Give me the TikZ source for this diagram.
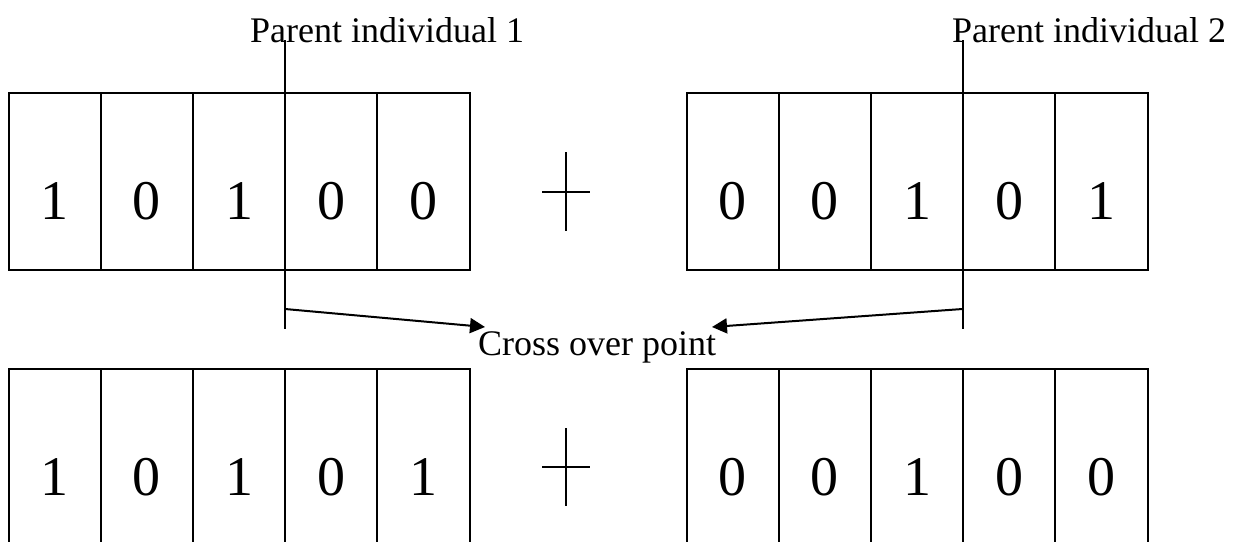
\documentclass[tikz,border=0pt]{standalone}
\usepackage{fontspec}
\setmainfont{Liberation Serif}
\usetikzlibrary{arrows.meta}
\begin{document}
\begin{tikzpicture}[x=1pt,y=-1pt,
  cell/.style={draw,line width=2pt,minimum width=92.2pt,minimum height=177pt,inner sep=0pt,outer sep=0pt,anchor=north west},
  digit/.style={font=\fontsize{56}{60}\selectfont,inner sep=0pt},
  lbl/.style={font=\fontsize{36}{40}\selectfont,inner sep=0pt,anchor=base west},
  ln/.style={line width=2pt},
  arr/.style={line width=2pt,-{Triangle[length=15pt,width=15pt]}}]
\path[use as bounding box] (0,0) rectangle (1234,541);
\clip (0,0) rectangle (1234,541);
% top row
\foreach \d [count=\i] in {1,0,1,0,0} {
  \node[cell] (ta\i) at ({8.5+(\i-1)*92.2},93) {};
  \node[digit] (tad\i) at ([yshift=-19.5pt]ta\i.center) {\d};
}
\foreach \d [count=\i] in {0,0,1,0,1} {
  \node[cell] (tb\i) at ({686.5+(\i-1)*92.2},93) {};
  \node[digit] (tbd\i) at ([yshift=-19.5pt]tb\i.center) {\d};
}
% bottom row
\foreach \d [count=\i] in {1,0,1,0,1} {
  \node[cell] (ba\i) at ({8.5+(\i-1)*92.2},369) {};
  \node[digit] (bad\i) at ([yshift=-19.5pt]ba\i.center) {\d};
}
\foreach \d [count=\i] in {0,0,1,0,0} {
  \node[cell] (bb\i) at ({686.5+(\i-1)*92.2},369) {};
  \node[digit] (bbd\i) at ([yshift=-19.5pt]bb\i.center) {\d};
}
% plus signs
\draw[ln] (566,152) -- (566,231);
\draw[ln] (542,192) -- (590,192);
\draw[ln] (566,428) -- (566,506);
\draw[ln] (542,467) -- (590,467);
% labels
\node[lbl] (p1) at (250,42) {Parent individual 1};
\node[lbl] (p2) at (952,42) {Parent individual 2};
\node[lbl] (cop) at (478,355) {Cross over point};
% crossover lines
\coordinate (l1top) at (285,40);
\coordinate (l1bot) at (285,329);
\coordinate (l1arr) at (285,309);
\coordinate (l2top) at (962.5,40);
\coordinate (l2bot) at (962.5,329);
\coordinate (l2arr) at (962.5,309);
\coordinate (c1) at (485,327);
\coordinate (c2) at (712,327);
\draw[ln] (l1top) -- (l1bot);
\draw[ln] (l2top) -- (l2bot);
\draw[arr] (l1arr) -- (c1);
\draw[arr] (l2arr) -- (c2);
\end{tikzpicture}
\end{document}
